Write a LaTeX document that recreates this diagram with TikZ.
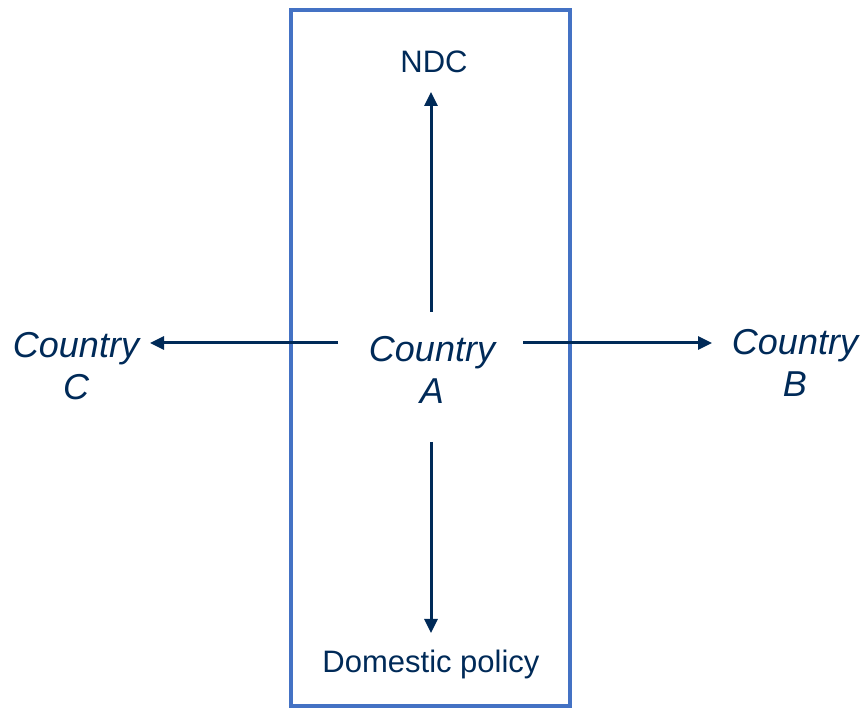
\documentclass[tikz,border=0pt]{standalone}
\usepackage{fontspec}
\setmainfont{Liberation Sans}
\usetikzlibrary{arrows.meta}
\definecolor{navy}{RGB}{0,42,88}
\definecolor{boxblue}{RGB}{68,114,196}
\tikzset{
  country/.style={align=center,text=navy,inner sep=0,font=\fontsize{36pt}{42pt}\selectfont\itshape},
  label/.style={text=navy,inner sep=0,font=\fontsize{31pt}{36pt}\selectfont},
  arr/.style={line width=3pt,draw=navy,-{Triangle[length=14pt,width=13pt]}}
}
\begin{document}
\begin{tikzpicture}[x=1pt,y=1pt]
            \useasboundingbox (0,0) rectangle (863,709);
            % box
            \draw [line width=4, boxblue] (291,3) rectangle (570,699);
            % nodes
            \node [country] (a) at (432,339) {Country\\A};
            \node [country] (c) at (76,343) {Country\\C};
            \node [country] (b) at (795,346) {Country\\B};
            \node [label] (ndc) at (434,647) {NDC};
            \node [label] (dom) at (431,45) {Domestic policy};
            % arrow up
            \draw [arr] ([xshift=-1pt,yshift=58pt]a.center) -- ([xshift=-3pt,yshift=-30pt]ndc.center);
            % arrow down
            \draw [arr] ([xshift=-1pt,yshift=-72pt]a.center) -- ([yshift=31pt]dom.center);
            % arrow left
            \draw [arr] ([xshift=-94pt,yshift=27pt]a.center) -- ([xshift=74pt,yshift=23pt]c.center);
            % arrow right
            \draw [arr] ([xshift=91pt,yshift=27pt]a.center) -- ([xshift=-83pt,yshift=20pt]b.center);
\end{tikzpicture}
\end{document}
